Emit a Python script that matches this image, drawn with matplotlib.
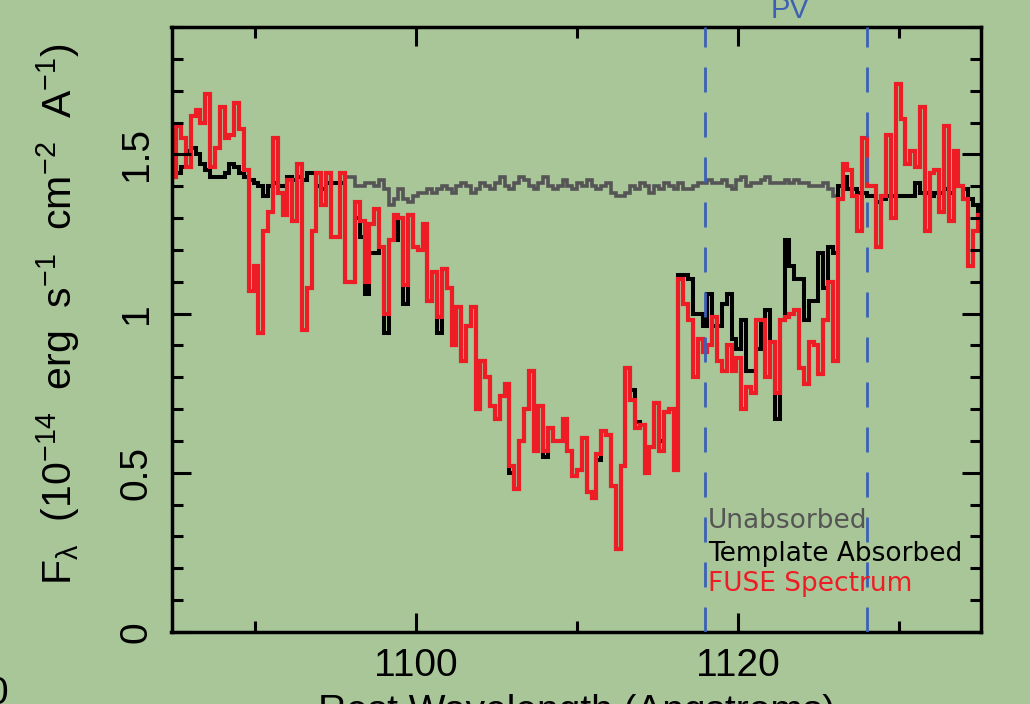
import matplotlib
matplotlib.use("Agg")
import matplotlib.pyplot as plt
import numpy as np
from matplotlib.ticker import MultipleLocator, FuncFormatter

# Spectral grid (Angstrom)
WAVE_START = 1084.8
BIN_WIDTH = 0.3

# Flux in units of 1e-14 erg/s/cm^2/A
fuse_flux = [
    1.43, 1.59, 1.55, 1.46, 1.62, 1.64, 1.60, 1.69, 1.46, 1.52,
    1.65, 1.55, 1.56, 1.66, 1.58, 1.45, 1.07, 1.15, 0.94, 1.26,
    1.32, 1.55, 1.38, 1.31, 1.42, 1.29, 1.47, 0.95, 1.08, 1.26,
    1.44, 1.34, 1.44, 1.24, 1.24, 1.44, 1.10, 1.10, 1.35, 1.29,
    1.10, 1.28, 1.33, 1.21, 1.00, 1.23, 1.31, 1.30, 1.09, 1.31,
    1.21, 1.20, 1.28, 1.04, 1.13, 0.99, 1.14, 1.08, 0.90, 1.02,
    0.85, 0.96, 1.02, 0.70, 0.85, 0.80, 0.71, 0.67, 0.74, 0.78,
    0.52, 0.45, 0.60, 0.70, 0.82, 0.57, 0.71, 0.57, 0.64, 0.60,
    0.60, 0.67, 0.57, 0.49, 0.51, 0.61, 0.44, 0.42, 0.56, 0.63,
    0.62, 0.46, 0.26, 0.52, 0.83, 0.73, 0.64, 0.65, 0.50, 0.58,
    0.72, 0.57, 0.69, 0.70, 0.51, 1.11, 1.03, 0.98, 0.80, 0.92,
    0.88, 0.90, 0.99, 0.85, 0.82, 0.90, 0.82, 0.86, 0.70, 0.77,
    0.75, 0.98, 0.98, 0.80, 0.91, 0.75, 0.98, 0.99, 1.00, 1.01,
    0.83, 0.78, 0.91, 0.90, 0.81, 0.98, 1.10, 0.85, 1.36, 1.47,
    1.45, 1.37, 1.26, 1.55, 1.40, 1.40, 1.21, 1.37, 1.56, 1.30,
    1.72, 1.61, 1.47, 1.51, 1.46, 1.65, 1.26, 1.44, 1.45, 1.32,
    1.59, 1.29, 1.51, 1.40, 1.36, 1.15, 1.26, 1.31,
]

template_flux = [
    1.43, 1.44, 1.46, 1.51, 1.52, 1.50, 1.47, 1.45, 1.43, 1.43,
    1.43, 1.44, 1.47, 1.46, 1.44, 1.43, 1.42, 1.41, 1.40, 1.37,
    1.40, 1.41, 1.40, 1.40, 1.43, 1.42, 1.43, 1.42, 1.44, 1.44,
    1.40, 1.39, 1.41, 1.41, 1.41, 1.41, 1.10, 1.10, 1.30, 1.24,
    1.06, 1.19, 1.19, 1.21, 0.94, 1.23, 1.23, 1.30, 1.03, 1.31,
    1.21, 1.20, 1.27, 1.04, 1.13, 0.94, 1.14, 1.08, 0.90, 1.02,
    0.85, 0.96, 1.02, 0.70, 0.85, 0.80, 0.71, 0.67, 0.74, 0.78,
    0.50, 0.45, 0.60, 0.70, 0.82, 0.57, 0.71, 0.55, 0.64, 0.60,
    0.60, 0.67, 0.57, 0.49, 0.51, 0.61, 0.44, 0.42, 0.54, 0.63,
    0.62, 0.46, 0.26, 0.52, 0.83, 0.76, 0.66, 0.65, 0.50, 0.58,
    0.72, 0.60, 0.69, 0.70, 0.51, 1.12, 1.12, 1.11, 1.00, 1.00,
    0.96, 1.06, 0.96, 0.96, 1.03, 1.06, 0.92, 0.89, 0.98, 0.82,
    0.82, 0.89, 0.98, 1.01, 0.91, 0.67, 0.98, 1.23, 1.15, 1.11,
    1.11, 0.98, 1.04, 1.04, 1.19, 1.08, 1.21, 1.19, 1.40, 1.43,
    1.39, 1.39, 1.38, 1.38, 1.37, 1.37, 1.35, 1.36, 1.37, 1.37,
    1.37, 1.37, 1.37, 1.37, 1.41, 1.38, 1.38, 1.37, 1.38, 1.38,
    1.39, 1.38, 1.40, 1.40, 1.39, 1.36, 1.34, 1.30,
]

unabsorbed_flux = [
    1.43, 1.44, 1.46, 1.51, 1.52, 1.50, 1.47, 1.45, 1.43, 1.43,
    1.43, 1.44, 1.47, 1.46, 1.44, 1.43, 1.42, 1.41, 1.40, 1.37,
    1.40, 1.41, 1.40, 1.40, 1.43, 1.42, 1.43, 1.42, 1.44, 1.44,
    1.40, 1.39, 1.41, 1.41, 1.41, 1.44, 1.43, 1.43, 1.40, 1.40,
    1.41, 1.41, 1.40, 1.42, 1.39, 1.34, 1.36, 1.39, 1.36, 1.35,
    1.37, 1.38, 1.38, 1.39, 1.38, 1.39, 1.40, 1.39, 1.38, 1.40,
    1.41, 1.40, 1.38, 1.39, 1.41, 1.40, 1.39, 1.41, 1.43, 1.40,
    1.39, 1.41, 1.43, 1.42, 1.40, 1.39, 1.41, 1.43, 1.40, 1.39,
    1.40, 1.42, 1.40, 1.39, 1.41, 1.40, 1.42, 1.40, 1.39, 1.40,
    1.41, 1.38, 1.37, 1.37, 1.38, 1.40, 1.39, 1.41, 1.40, 1.38,
    1.40, 1.39, 1.41, 1.40, 1.39, 1.41, 1.39, 1.39, 1.40, 1.41,
    1.41, 1.42, 1.41, 1.41, 1.42, 1.40, 1.39, 1.42, 1.43, 1.40,
    1.41, 1.41, 1.42, 1.43, 1.41, 1.41, 1.41, 1.42, 1.41, 1.42,
    1.41, 1.41, 1.40, 1.40, 1.40, 1.41, 1.39, 1.37, 1.40, 1.43,
    1.39, 1.39, 1.38, 1.38, 1.37, 1.37, 1.35, 1.36, 1.37, 1.37,
    1.37, 1.37, 1.37, 1.37, 1.41, 1.38, 1.38, 1.37, 1.38, 1.38,
    1.39, 1.38, 1.40, 1.40, 1.39, 1.36, 1.34, 1.30,
]

# P V doublet rest wavelengths
pv_lines = [1117.98, 1128.01]

series_labels = ["Unabsorbed", "Template Absorbed", "FUSE Spectrum"]

BG = "#a9c699"
BLUE = "#3b60b6"
RED = "#ee1c25"
GRAY = "#555555"

plt.rcParams["font.family"] = ["Liberation Sans", "DejaVu Sans"]
plt.rcParams["mathtext.fontset"] = "custom"
plt.rcParams["mathtext.rm"] = "Liberation Sans"
plt.rcParams["mathtext.it"] = "Liberation Sans"
plt.rcParams["mathtext.default"] = "regular"
plt.rcParams["lines.scale_dashes"] = False

W, H = 1030, 704
fig = plt.figure(figsize=(W / 100, H / 100), dpi=100, facecolor=BG)
left, right, top, bottom = 171.5, 981, 27, 632
ax = fig.add_axes([left / W, (H - bottom) / H, (right - left) / W, (bottom - top) / H])
ax.set_facecolor(BG)

edges = WAVE_START + BIN_WIDTH * np.arange(len(fuse_flux) + 1)
ax.stairs(unabsorbed_flux, edges, baseline=None, color=GRAY, lw=2.6)
ax.stairs(template_flux, edges, baseline=None, color="black", lw=2.9)
ax.stairs(fuse_flux, edges, baseline=None, color=RED, lw=3.0)

ax.set_xlim(1084.8, 1135.1)
ax.set_ylim(0, 1.9)

for w in pv_lines:
    ax.plot([w, w], [1.9, 0], color=BLUE, lw=2.0, ls=(3.6, (18, 14.4)), zorder=5)

fig.text(790 / W, (H - 18) / H, "PV", color=BLUE, fontsize=21,
         ha="center", va="baseline")

label_colors = [GRAY, "black", RED]
label_y = [0.172, 0.117, 0.068]
for txt, c, yy in zip(series_labels, label_colors, label_y):
    ax.text(0.663, yy, txt, transform=ax.transAxes, color=c, fontsize=19,
            family="DejaVu Sans", va="baseline", ha="left", zorder=6)

ax.xaxis.set_major_locator(MultipleLocator(20))
ax.xaxis.set_minor_locator(MultipleLocator(10))
ax.yaxis.set_major_locator(MultipleLocator(0.5))
ax.yaxis.set_minor_locator(MultipleLocator(0.1))
ax.yaxis.set_major_formatter(FuncFormatter(lambda v, p: f"{v:g}"))

ax.tick_params(which="both", direction="in", top=True, right=True,
               width=2.2, color="black")
ax.tick_params(which="major", length=13.7)
ax.tick_params(which="minor", length=7.9)
ax.tick_params(axis="x", labelsize=28, pad=11.5)
ax.tick_params(axis="y", labelsize=28, pad=11.9, labelrotation=90)
for lab in ax.get_yticklabels():
    lab.set_va("center")
for s in ax.spines.values():
    s.set_linewidth(2.5)

ax.set_xlabel("Rest Wavelength (Angstroms)", fontsize=28)
ax.xaxis.set_label_coords(0.5, -0.1025)
ax.set_ylabel(r"F$_\lambda$  (10$^{-14}$  erg  s$^{-1}$  cm$^{-2}$  A$^{-1}$)",
              fontsize=29.5)
ax.yaxis.set_label_coords(-0.11, 0.5256)

fig.text(-14 / W, (H - 676) / H, "0", fontsize=28, va="top", ha="left")

fig.savefig("out.png", dpi=100, facecolor=BG)
